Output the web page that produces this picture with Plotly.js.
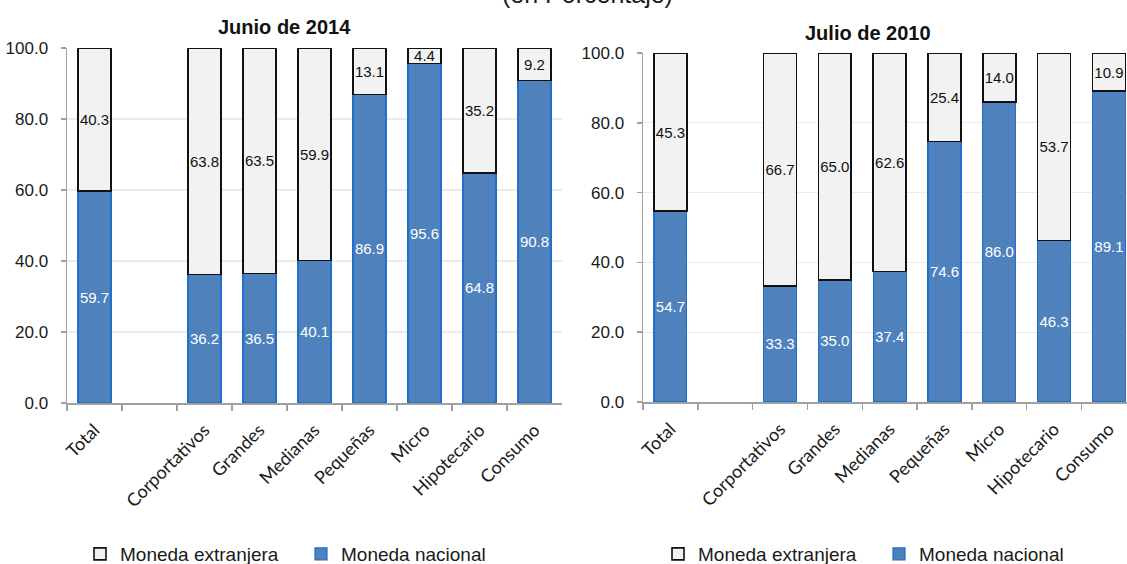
<!DOCTYPE html>
<html>
<head>
<meta charset="utf-8">
<script src="https://cdn.plot.ly/plotly-3.0.1.min.js"></script>
<style>
html,body{margin:0;padding:0;background:#fff;}
#chart{width:1127px;height:564px;}
</style>
</head>
<body>
<div id="chart"></div>
<script>
var categories = ["Total", " ", "Corportativos", "Grandes", "Medianas", "Pequeñas", "Micro", "Hipotecario", "Consumo"];
var nacional2014 = [59.7, null, 36.2, 36.5, 40.1, 86.9, 95.6, 64.8, 90.8];
var extranjera2014 = [40.3, null, 63.8, 63.5, 59.9, 13.1, 4.4, 35.2, 9.2];
var nacional2010 = [54.7, null, 33.3, 35.0, 37.4, 74.6, 86.0, 46.3, 89.1];
var extranjera2010 = [45.3, null, 66.7, 65.0, 62.6, 25.4, 14.0, 53.7, 10.9];
var seriesNames = ["Moneda nacional", "Moneda extranjera"];
var panelTitles = ["Junio de 2014", "Julio de 2010"];
var mainTitle = "(en Porcentaje)";

var NARROW = "'Liberation Sans Narrow', 'Arial Narrow', 'Liberation Sans', Arial, sans-serif";
var TICKFONT = "Lato, 'Open Sans', sans-serif";
var BLUE = "#4F81BD", BLUE_LINE = "#1F70C8", GREY = "#F2F2F2";

function fmt(arr){ return arr.map(function(v){ return v == null ? "" : v.toFixed(1); }); }

function mk(vals, name, xa, ya, isNac, legend){
  return {
    type: "bar", x: categories, y: vals, name: name, xaxis: xa, yaxis: ya,
    legend: legend,
    width: 0.6,
    marker: {color: isNac ? BLUE : GREY, line: {color: isNac ? BLUE_LINE : "#111", width: isNac ? 1.2 : 1.6}},
    text: fmt(vals), textposition: "inside", insidetextanchor: "middle",
    textangle: 0, constraintext: "none",
    textfont: {family: NARROW, size: 15, color: isNac ? "#ffffff" : "#111111"},
    cliponaxis: false,
    hoverinfo: "skip"
  };
}

var data = [
  mk(nacional2014, seriesNames[0], "x", "y", true, "legend"),
  mk(extranjera2014, seriesNames[1], "x", "y", false, "legend"),
  mk(nacional2010, seriesNames[0], "x2", "y2", true, "legend2"),
  mk(extranjera2010, seriesNames[1], "x2", "y2", false, "legend2")
];

function yax(dom, anchor){
  return {
    domain: dom, anchor: anchor, range: [0, 100], tickvals: [0,20,40,60,80,100],
    tickformat: ".1f", showgrid: true, gridcolor: "#EBEBEB", gridwidth: 1.2,
    showline: true, linecolor: "#A0A0A0", linewidth: 1.5,
    ticks: "outside", ticklen: 5, tickcolor: "#A0A0A0", tickwidth: 1.5,
    ticklabelstandoff: 9,
    tickfont: {family: NARROW, size: 17, color: "#1a1a1a"}, zeroline: false, fixedrange: true
  };
}
function xax(dom, anchor, range){
  return {
    domain: dom, anchor: anchor, type: "category", range: range,
    showline: true, linecolor: "#A0A0A0", linewidth: 1.5,
    ticks: "outside", tickson: "boundaries", ticklen: 6, tickcolor: "#A0A0A0", tickwidth: 1.5,
    tickangle: -45, tickfont: {family: TICKFONT, size: 18, color: "#1a1a1a"},
    ticklabelstandoff: 8,
    showgrid: false, fixedrange: true
  };
}

function leg(xpx){
  return {orientation: "h", xref: "container", yref: "container",
          x: xpx/1127, xanchor: "left", y: 1 - 554/564, yanchor: "middle",
          traceorder: "reversed", font: {family: NARROW, size: 19, color: "#1a1a1a"},
          entrywidth: 176, entrywidthmode: "pixels", itemwidth: 30, bgcolor: "rgba(0,0,0,0)"};
}

var layout = {
  width: 1127, height: 564,
  margin: {l: 0, r: 0, t: 0, b: 0, autoexpand: false},
  paper_bgcolor: "#ffffff", plot_bgcolor: "#ffffff",
  barmode: "stack",
  xaxis: xax([67/1127, 562/1127], "y", [-0.5, 8.5]),
  yaxis: yax([1 - 403/564, 1 - 48/564], "x"),
  xaxis2: xax([643/1127, 1], "y2", [-0.5, 8.33]),
  yaxis2: yax([1 - 402/564, 1 - 53/564], "x2"),
  showlegend: true,
  legend: leg(80),
  legend2: leg(658),
  annotations: [
    {text: mainTitle, xref: "paper", yref: "paper", x: 587/1127, y: 1 + 6/564,
     xanchor: "center", yanchor: "middle", showarrow: false, font: {family: NARROW, size: 25, color: "#1a1a1a"}},
    {text: "<b>" + panelTitles[0] + "</b>", xref: "paper", yref: "paper", x: 284/1127, y: 1 - 27/564,
     xanchor: "center", yanchor: "middle", showarrow: false, font: {family: NARROW, size: 20, color: "#111"}},
    {text: "<b>" + panelTitles[1] + "</b>", xref: "paper", yref: "paper", x: 868/1127, y: 1 - 33/564,
     xanchor: "center", yanchor: "middle", showarrow: false, font: {family: NARROW, size: 20, color: "#111"}}
  ]
};

Plotly.newPlot("chart", data, layout, {displayModeBar: false, staticPlot: true});
</script>
</body>
</html>
